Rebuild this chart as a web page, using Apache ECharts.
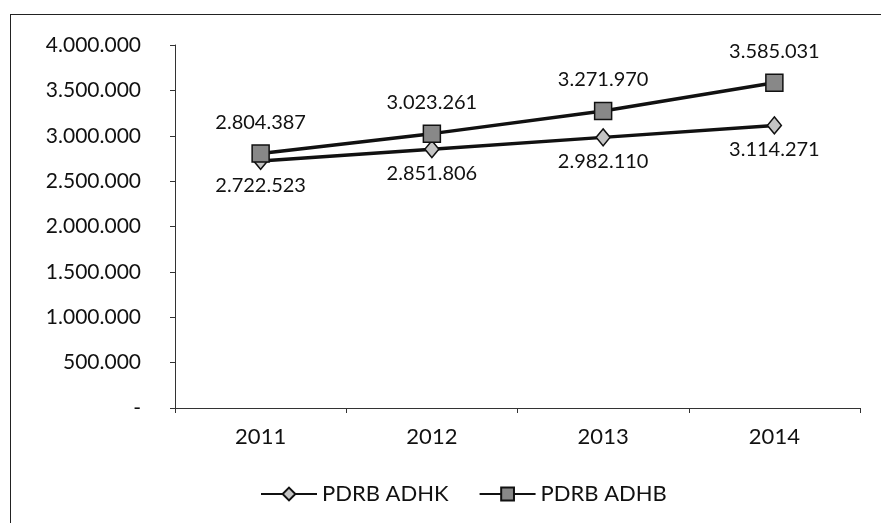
<!DOCTYPE html>
<html>
<head>
<meta charset="utf-8">
<script src="https://cdn.jsdelivr.net/npm/echarts@6/dist/echarts.min.js"></script>
<style>
  html, body { margin: 0; padding: 0; background: #fff; }
  #wrap { position: relative; width: 881px; height: 523px; }
  #frame { position: absolute; left: 10px; top: 14px; right: -2px; bottom: -2px;
           border-left: 1.5px solid #222; border-top: 1.5px solid #222; }
  #chart { position: absolute; left: 0; top: 0; width: 881px; height: 523px; }
</style>
</head>
<body>
<div id="wrap">
  <div id="frame"></div>
  <div id="chart"></div>
</div>
<script>
// data
const years = ['2011', '2012', '2013', '2014'];
const adhk = [2722523, 2851806, 2982110, 3114271];
const adhb = [2804387, 3023261, 3271970, 3585031];

// 1234567 -> 1.234.567
function dots(v) {
  if (v === 0) return '-';
  return String(v).replace(/\B(?=(\d{3})+(?!\d))/g, '.');
}

const font = 'Lato, "Open Sans", sans-serif';
let myChart = echarts.init(document.getElementById('chart'));
myChart.setOption({
  animation: false,
  textStyle: { fontFamily: font },
  grid: { left: 175, right: 21, top: 45, bottom: 115 },
  legend: {
    left: 255, top: 478,
    itemWidth: 56, itemHeight: 16, itemGap: 30,
    textStyle: { fontFamily: font, fontSize: 22, color: '#111' },
    data: ['PDRB ADHK', 'PDRB ADHB']
  },
  xAxis: {
    type: 'category',
    data: years,
    boundaryGap: true,
    axisLine: { lineStyle: { color: '#333', width: 1 } },
    axisTick: { show: true, length: 5, lineStyle: { color: '#333' } },
    axisLabel: { fontFamily: font, fontSize: 22, color: '#111', margin: 18 },
    splitLine: { show: false }
  },
  yAxis: {
    type: 'value',
    min: 0, max: 4000000, interval: 500000,
    axisLine: { show: true, lineStyle: { color: '#333', width: 1 } },
    axisTick: { show: true, length: 5, lineStyle: { color: '#333' } },
    axisLabel: { fontFamily: font, fontSize: 21, color: '#111', margin: 34, formatter: dots },
    splitLine: { show: false }
  },
  series: [
    {
      name: 'PDRB ADHK',
      type: 'line',
      data: adhk,
      symbol: 'diamond',
      symbolSize: [14, 17],
      lineStyle: { color: '#111', width: 3.5 },
      itemStyle: { color: '#c4c4c4', borderColor: '#111', borderWidth: 1.5 },
      label: {
        show: true, position: 'bottom', distance: 5,
        fontFamily: font, fontSize: 20, color: '#111',
        formatter: p => dots(p.value)
      }
    },
    {
      name: 'PDRB ADHB',
      type: 'line',
      data: adhb,
      symbol: 'rect',
      symbolSize: [17, 17],
      lineStyle: { color: '#111', width: 3.5 },
      itemStyle: { color: '#888', borderColor: '#111', borderWidth: 1.5 },
      label: {
        show: true, position: 'top', distance: 12,
        fontFamily: font, fontSize: 20, color: '#111',
        formatter: p => dots(p.value)
      }
    }
  ]
});
</script>
</body>
</html>
